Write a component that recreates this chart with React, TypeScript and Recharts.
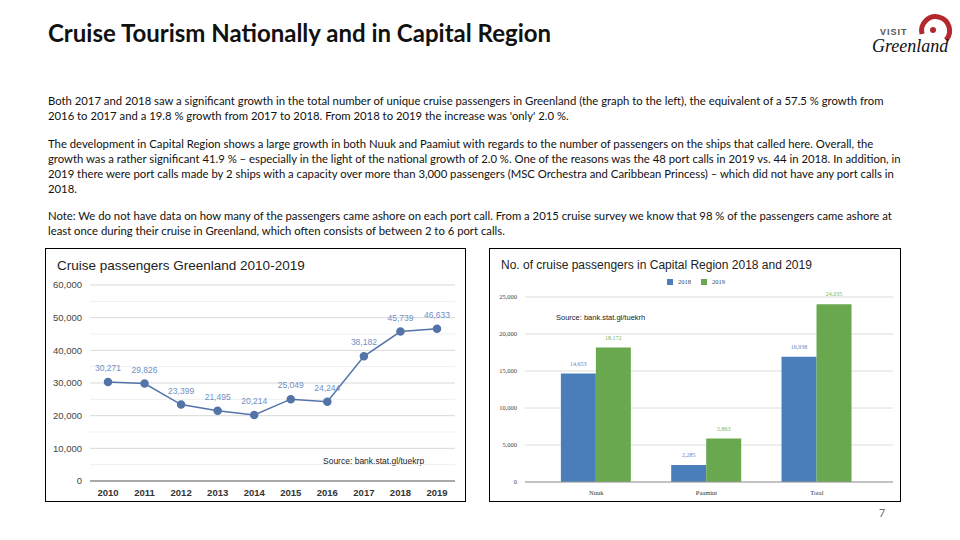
import React from 'react'
import { LineChart, Line, BarChart, Bar, XAxis, YAxis, CartesianGrid, LabelList, ReferenceLine } from 'recharts'

// national cruise passengers
const years = ['2010', '2011', '2012', '2013', '2014', '2015', '2016', '2017', '2018', '2019']
const passengers = [30271, 29826, 23399, 21495, 20214, 25049, 24244, 38182, 45739, 46633]
const nationalTicks = [0, 10000, 20000, 30000, 40000, 50000, 60000]
const nationalMinor = [5000, 15000, 25000, 35000, 45000, 55000]

// capital region
const towns = ['Nuuk', 'Paamiut', 'Total']
const pax2018 = [14653, 2285, 16938]
const pax2019 = [18172, 5863, 24035]
const regionTicks = [0, 5000, 10000, 15000, 20000, 25000]

const paragraphs = [
  [
    'Both 2017 and 2018 saw a significant growth in the total number of unique cruise passengers in Greenland (the graph to the left), the equivalent of a 57.5 % growth from',
    "2016 to 2017 and a 19.8 % growth from 2017 to 2018. From 2018 to 2019 the increase was 'only' 2.0 %.",
  ],
  [
    'The development in Capital Region shows a large growth in both Nuuk and Paamiut with regards to the number of passengers on the ships that called here. Overall, the',
    'growth was a rather significant 41.9 % – especially in the light of the national growth of 2.0 %. One of the reasons was the 48 port calls in 2019 vs. 44 in 2018. In addition, in',
    '2019 there were port calls made by 2 ships with a capacity over more than 3,000 passengers (MSC Orchestra and Caribbean Princess) – which did not have any port calls in',
    '2018.',
  ],
  [
    'Note: We do not have data on how many of the passengers came ashore on each port call. From a 2015 cruise survey we know that 98 % of the passengers came ashore at',
    'least once during their cruise in Greenland, which often consists of between 2 to 6 port calls.',
  ],
]

const lineData = years.map((year, i) => ({ year, value: passengers[i] }))
const barData = towns.map((town, i) => ({ town, y2018: pax2018[i], y2019: pax2019[i] }))

const fmt = (v: number) => v.toLocaleString('en-US')

const LINE_COLOR = '#5474a9'
const BLUE = '#4a7ebb'
const GREEN = '#6aa84f'

function Logo() {
  return (
    <svg width={90} height={48} style={{ position: 'absolute', left: 866, top: 10 }}>
      <path d="M 56 24 A 14 14 0 1 1 80 30" fill="none" stroke="#b3282d" strokeWidth={5} />
      <circle cx={67} cy={20} r={3} fill="#b3282d" />
      <text x={14} y={25} fontFamily="Liberation Sans" fontWeight={700} fontSize={9} fill="#555" letterSpacing={1}>VISIT</text>
      <text x={6} y={42} fontFamily="Liberation Serif" fontStyle="italic" fontSize={18} fill="#111">Greenland</text>
    </svg>
  )
}

export default function App() {
  return (
    <div style={{ position: 'absolute', left: 0, top: 0, width: 960, height: 540, background: '#fff', overflow: 'hidden' }}>
      <div style={{ position: 'absolute', left: 48, top: 18, fontFamily: 'Lato', fontWeight: 700, fontSize: 24, color: '#111' }}>
        Cruise Tourism Nationally and in Capital Region
      </div>
      <Logo />

      <div style={{ position: 'absolute', left: 48, top: 93, fontFamily: 'Lato', fontSize: 11.3, lineHeight: '15px', color: '#111' }}>
        {paragraphs.map((p, i) => (
          <div key={i} style={{ marginBottom: 12.5 }}>
            {p.map((line, j) => (
              <div key={j} style={{ whiteSpace: 'nowrap' }}>{line}</div>
            ))}
          </div>
        ))}
      </div>

      {/* national line chart */}
      <div style={{ position: 'absolute', left: 45, top: 248, width: 419, height: 252, border: '1px solid #000' }}>
        <div style={{ position: 'absolute', left: 11, top: 9, fontFamily: 'Liberation Sans', fontSize: 13.5, color: '#222' }}>
          Cruise passengers Greenland 2010-2019
        </div>
        <div style={{ position: 'absolute', left: 277, top: 207, fontFamily: 'Liberation Sans', fontSize: 8.5, color: '#222' }}>
          Source: bank.stat.gl/tuekrp
        </div>
        <LineChart width={419} height={252} data={lineData} margin={{ top: 36, right: 10, bottom: 2, left: 0 }}>
          <CartesianGrid vertical={false} stroke="#d9d9d9" />
          {nationalMinor.map(v => (
            <ReferenceLine key={v} y={v} stroke="#efefef" />
          ))}
          <XAxis dataKey="year" height={18} tickLine={false} axisLine={{ stroke: '#666', strokeWidth: 1.2 }}
            padding={{ left: 18, right: 18 }}
            tick={{ fontFamily: 'Liberation Sans', fontSize: 9.5, fill: '#333', fontWeight: 700 }} />
          <YAxis width={44} domain={[0, 60000]} ticks={nationalTicks} tickFormatter={fmt} tickLine={false} axisLine={false}
            tick={{ fontFamily: 'Liberation Sans', fontSize: 9.5, fill: '#444' }} />
          <Line dataKey="value" stroke={LINE_COLOR} strokeWidth={1.5} isAnimationActive={false}
            dot={{ r: 3.5, fill: LINE_COLOR, stroke: LINE_COLOR }}>
            <LabelList dataKey="value" position="top" offset={11} formatter={fmt}
              style={{ fontFamily: 'Liberation Sans', fontSize: 8.5, fill: '#6f8fc6' }} />
          </Line>
        </LineChart>
      </div>

      {/* capital region bar chart */}
      <div style={{ position: 'absolute', left: 489, top: 248, width: 410, height: 252, border: '1px solid #000' }}>
        <div style={{ position: 'absolute', left: 11, top: 9, fontFamily: 'Liberation Sans', fontSize: 12, color: '#222' }}>
          No. of cruise passengers in Capital Region 2018 and 2019
        </div>
        <div style={{ position: 'absolute', left: 177, top: 29, display: 'flex', alignItems: 'center', fontFamily: 'Liberation Serif', fontSize: 6.5, color: '#444' }}>
          <span style={{ width: 6, height: 6, background: BLUE, marginRight: 5 }} />
          <span style={{ marginRight: 10 }}>2018</span>
          <span style={{ width: 6, height: 6, background: GREEN, marginRight: 5 }} />
          <span>2019</span>
        </div>
        <div style={{ position: 'absolute', left: 66, top: 64, fontFamily: 'Liberation Sans', fontSize: 7.5, color: '#222' }}>
          Source: bank.stat.gl/tuekrh
        </div>
        <BarChart width={410} height={252} data={barData} margin={{ top: 48, right: 7, bottom: 5, left: 0 }}
          barCategoryGap="18%" barGap={0}>
          <CartesianGrid vertical={false} stroke="#dcdcdc" />
          <XAxis dataKey="town" height={14} tickLine={false} axisLine={{ stroke: '#999' }} padding={{ left: 16, right: 21 }}
            tick={{ fontFamily: 'Liberation Serif', fontSize: 6.5, fill: '#333' }} />
          <YAxis width={35} domain={[0, 25000]} ticks={regionTicks} tickFormatter={fmt} tickLine={false} axisLine={false}
            tick={{ fontFamily: 'Liberation Serif', fontSize: 6.5, fill: '#444' }} />
          <Bar dataKey="y2018" fill={BLUE} isAnimationActive={false}>
            <LabelList dataKey="y2018" position="top" offset={8} formatter={fmt}
              style={{ fontFamily: 'Liberation Serif', fontSize: 6, fill: '#5d87c0' }} />
          </Bar>
          <Bar dataKey="y2019" fill={GREEN} isAnimationActive={false}>
            <LabelList dataKey="y2019" position="top" offset={8} formatter={fmt}
              style={{ fontFamily: 'Liberation Serif', fontSize: 6, fill: '#7ab35f' }} />
          </Bar>
        </BarChart>
      </div>

      <div style={{ position: 'absolute', left: 879, top: 507, fontFamily: 'Lato', fontSize: 10.5, color: '#666' }}>7</div>
    </div>
  )
}
